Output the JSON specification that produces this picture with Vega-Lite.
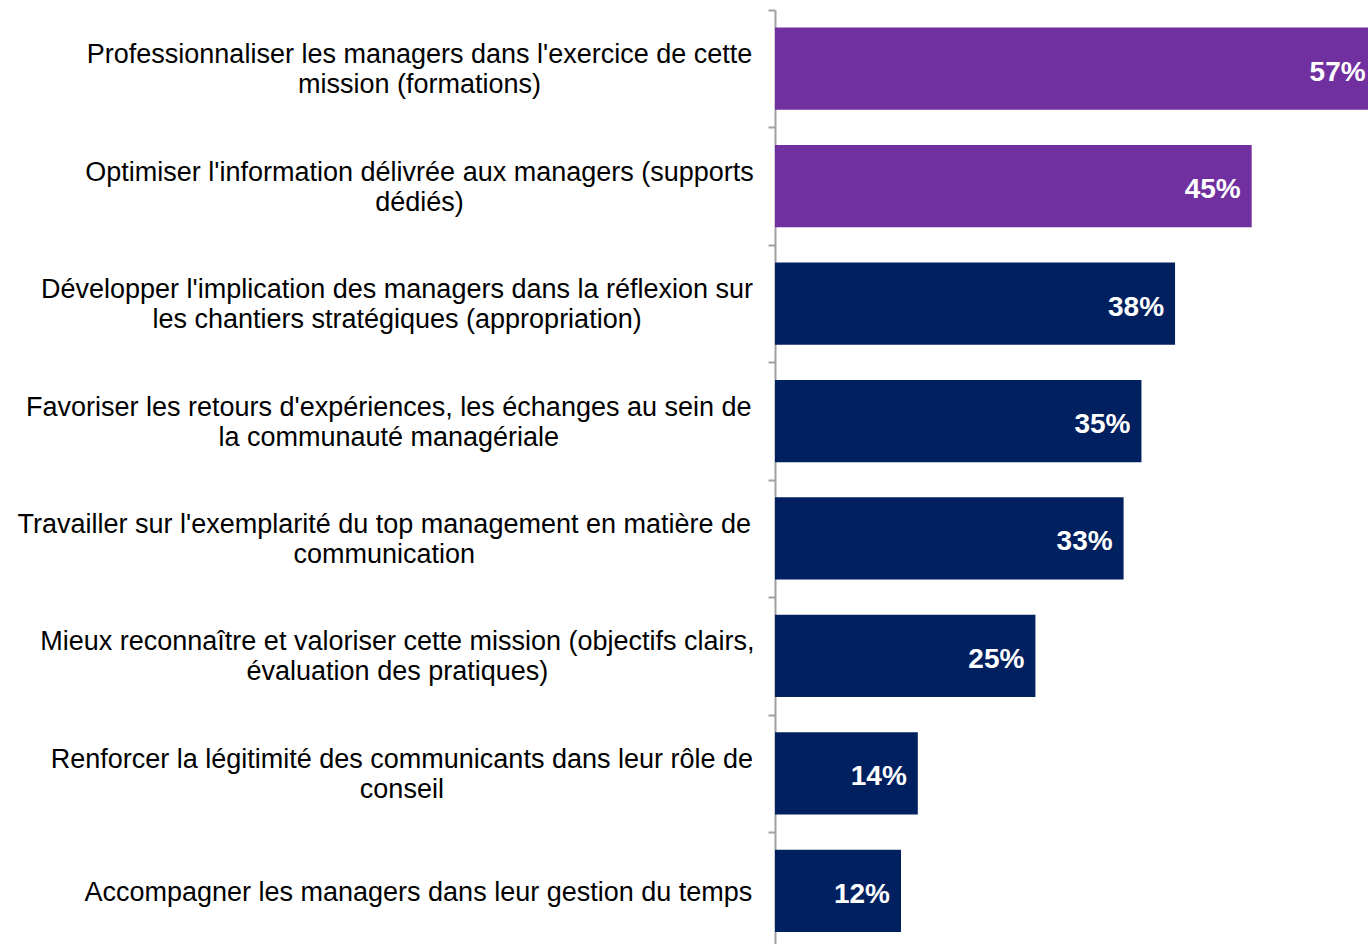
{
  "$schema": "https://vega.github.io/schema/vega-lite/v6.json",
  "width": 593,
  "height": 934,
  "autosize": "none",
  "padding": {"left": 775, "top": 10, "right": 0, "bottom": 0},
  "background": "white",
  "config": {"view": {"stroke": null}, "font": "Liberation Sans"},
  "data": {
    "values": [
      {"action": "Professionnaliser les managers dans l'exercice de cette\nmission (formations)", "pct": 0.573},
      {"action": "Optimiser l'information délivrée aux managers (supports\ndédiés)", "pct": 0.454},
      {"action": "Développer l'implication des managers dans la réflexion sur\nles chantiers stratégiques (appropriation)", "pct": 0.381},
      {"action": "Favoriser les retours d'expériences, les échanges au sein de\nla communauté managériale", "pct": 0.349},
      {"action": "Travailler sur l'exemplarité du top management en matière de\ncommunication", "pct": 0.332},
      {"action": "Mieux reconnaître et valoriser cette mission (objectifs clairs,\névaluation des pratiques)", "pct": 0.248},
      {"action": "Renforcer la légitimité des communicants dans leur rôle de\nconseil", "pct": 0.136},
      {"action": "Accompagner les managers dans leur gestion du temps", "pct": 0.12}
    ]
  },
  "encoding": {
    "x": {
      "field": "pct",
      "type": "quantitative",
      "scale": {"domain": [0, 0.56476], "nice": false, "zero": true},
      "axis": null
    }
  },
  "layer": [
    {
      "mark": {"type": "bar", "height": {"band": 0.7}},
      "encoding": {
        "y": {
          "field": "action",
          "type": "nominal",
          "sort": null,
          "scale": {"paddingInner": 0, "paddingOuter": 0, "range": [0, 939.5]},
          "axis": {
            "orient": "left",
            "title": null,
            "labels": false,
            "tickBand": "extent",
            "tickSize": 7,
            "tickColor": "#a0a0a0",
            "tickWidth": 2,
            "domainColor": "#a0a0a0",
            "domainWidth": 2,
            "grid": false
          }
        },
        "color": {"condition": {"test": "datum.pct >= 0.45", "value": "#7030A0"}, "value": "#002060"}
      }
    },
    {
      "mark": {"type": "text", "align": "right", "baseline": "middle", "dx": -11, "dy": 4, "fontSize": 28, "fontWeight": "bold", "color": "white"},
      "encoding": {
        "y": {
          "field": "action",
          "type": "nominal",
          "sort": null,
          "axis": {
            "orient": "left",
            "title": null,
            "ticks": false,
            "domain": false,
            "grid": false,
            "labelExpr": "split(datum.value, '\\n')",
            "labelAlign": "center",
            "labelBaseline": "middle",
            "labelPadding": {"condition": {"test": "true", "expr": "23 + 13.5*(0.556*length(split(datum.value,'\\n')[0]) - 0.334*(length(split(datum.value,'\\n')[0])-length(replace(split(datum.value,'\\n')[0],regexp('[ilj]','g'),''))) - 0.365*(length(split(datum.value,'\\n')[0])-length(replace(split(datum.value,'\\n')[0],regexp(\"[']\",'g'),''))) - 0.278*(length(split(datum.value,'\\n')[0])-length(replace(split(datum.value,'\\n')[0],regexp('[ft ,.î]','g'),''))) - 0.223*(length(split(datum.value,'\\n')[0])-length(replace(split(datum.value,'\\n')[0],regexp('[r()]','g'),''))) - 0.056*(length(split(datum.value,'\\n')[0])-length(replace(split(datum.value,'\\n')[0],regexp('[scxkvyz]','g'),''))) + 0.277*(length(split(datum.value,'\\n')[0])-length(replace(split(datum.value,'\\n')[0],regexp('[m]','g'),''))) + 0.166*(length(split(datum.value,'\\n')[0])-length(replace(split(datum.value,'\\n')[0],regexp('[w]','g'),''))) + 0.13*(length(split(datum.value,'\\n')[0])-length(replace(split(datum.value,'\\n')[0],regexp('[A-Z]','g'),''))))"}, "value": 23},
            "labelOffset": {"condition": {"test": "indexof(datum.value, '\\n') >= 0", "value": -13.5}, "value": 2.5},
            "labelFontSize": 27,
            "labelLineHeight": 30,
            "labelColor": "#000000",
            "labelLimit": 900,
            "labelOverlap": false
          }
        },
        "text": {"field": "pct", "type": "quantitative", "format": ".0%"}
      }
    }
  ],
  "resolve": {"axis": {"y": "independent"}}
}
